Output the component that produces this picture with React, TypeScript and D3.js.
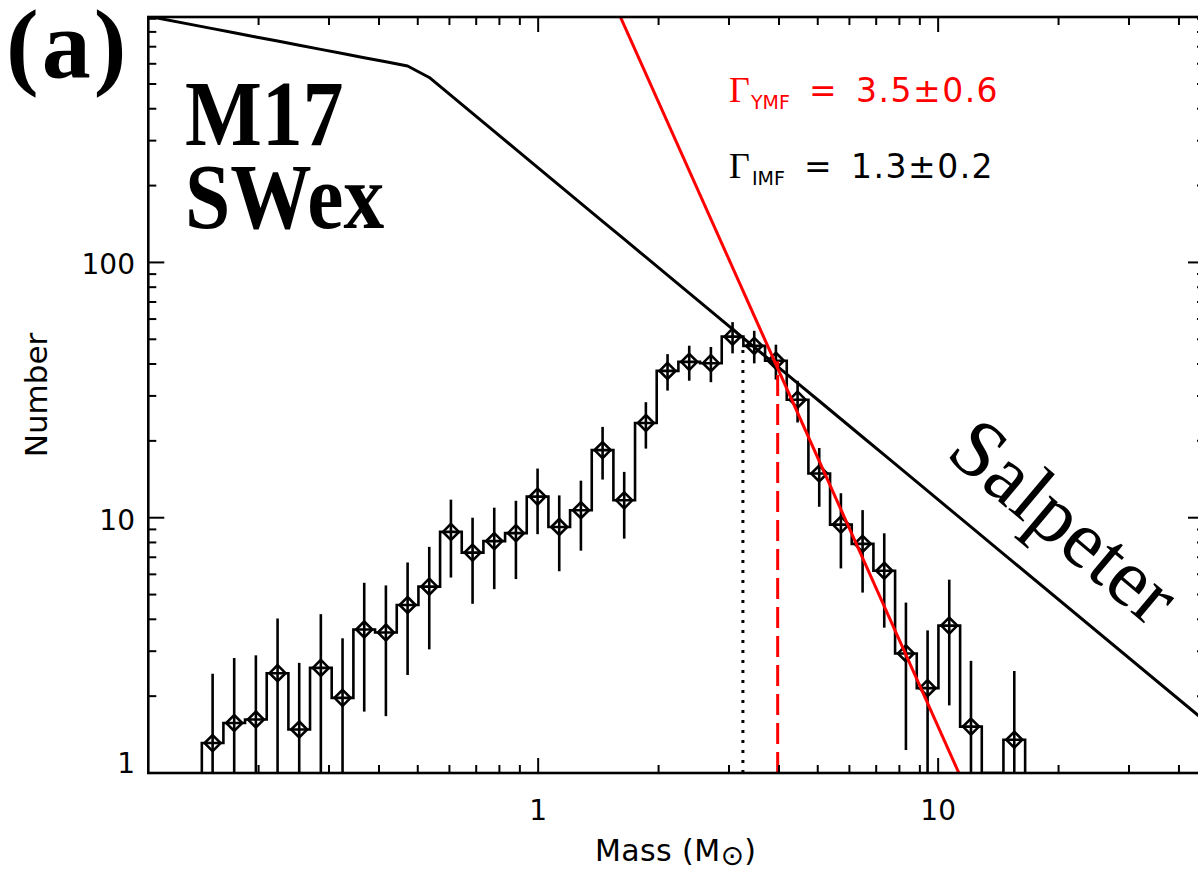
import React from "react";
import * as d3 from "d3";

// Mass function of the M17 SWex population: bin centres (solar masses) and counts
const binMass = [
  0.1535, 0.1738, 0.1969, 0.2231, 0.2527, 0.2862, 0.3243, 0.3674, 0.4162, 0.4716,
  0.5342, 0.6052, 0.6855, 0.7766, 0.8798, 0.9966, 1.129, 1.279, 1.449, 1.641,
  1.859, 2.106, 2.386, 2.703, 3.062, 3.469, 3.93, 4.452, 5.043, 5.713,
  6.473, 7.332, 8.307, 9.41, 10.66, 12.08, 13.68, 15.5,
];
const counts = [
  1.31, 1.57, 1.62, 2.46, 1.48, 2.58, 1.97, 3.65, 3.55, 4.55,
  5.37, 8.8, 7.3, 8.1, 8.7, 12.1, 9.2, 10.7, 18.4, 11.7,
  23.5, 37.6, 40.8, 40.3, 51.2, 47.1, 41.2, 29.0, 14.9, 9.4,
  7.9, 6.2, 2.94, 2.15, 3.78, 1.52, 0, 1.35,
];
const errors = [
  1.14, 1.25, 1.27, 1.57, 1.22, 1.61, 1.4, 1.91, 1.88, 2.13,
  2.32, 2.97, 2.7, 2.85, 2.95, 3.48, 3.03, 3.27, 4.29, 3.42,
  4.85, 6.13, 6.39, 6.35, 7.16, 6.86, 6.42, 5.39, 3.86, 3.07,
  2.81, 2.49, 1.71, 1.47, 1.94, 1.23, 0, 1.16,
];

// Broken power-law IMF (dN/dlogm slopes) and the power-law fit to the high-mass tail
const imfBreakMass = 0.5;
const imfCountAtBreak = 578;
const imfSlopeLow = 0.3;
const imfSlopeHigh = 1.3;
const ymfSlope = 3.5;
const ymfCountAtOneSolar = 4800;

// Reference masses marked with vertical lines: [mass, top count]
const turnover = [3.25, 47];
const fitStart = [3.97, 41];

const xDomain = [0.106, 46.2];
const yDomain = [1, 915];
const xMajorTicks = [1, 10];
const xMinorTicks = [0.2, 0.3, 0.4, 0.5, 0.6, 0.7, 0.8, 0.9, 2, 3, 4, 5, 6, 7, 8, 9, 20, 30, 40];
const yMajorTicks = [1, 10, 100];
const yMinorTicks = [2, 3, 4, 5, 6, 7, 8, 9, 20, 30, 40, 50, 60, 70, 80, 90, 200, 300, 400, 500, 600, 700, 800, 900];

const SANS = "'DejaVu Sans', sans-serif";
const SERIF = "'Liberation Serif', 'Times New Roman', serif";

export default function App() {
  const W = 1198;
  const H = 871;
  const left = 148.3;
  const right = 1204;
  const top = 17;
  const bottom = 773;

  const x = d3.scaleLog().domain(xDomain).range([left, right]);
  const y = d3.scaleLog().domain(yDomain).range([bottom, top]);
  const yv = (v: number) => (v > 0 ? y(Math.max(v, yDomain[0])) : y(yDomain[0]));

  // bin edges: geometric midpoints between neighbouring centres
  const n = binMass.length;
  const edges: number[] = [];
  edges.push(binMass[0] / Math.sqrt(binMass[1] / binMass[0]));
  for (let k = 1; k < n; k++) edges.push(Math.sqrt(binMass[k - 1] * binMass[k]));
  edges.push(binMass[n - 1] * Math.sqrt(binMass[n - 1] / binMass[n - 2]));

  const histPts: [number, number][] = [[x(edges[0]), yv(0)]];
  for (let k = 0; k < n; k++) {
    histPts.push([x(edges[k]), yv(counts[k])]);
    histPts.push([x(edges[k + 1]), yv(counts[k])]);
  }
  histPts.push([x(edges[n]), yv(0)]);
  const line = d3.line();
  const histPath = line(histPts) || "";

  const imf = (m: number) =>
    m < imfBreakMass
      ? imfCountAtBreak * Math.pow(m / imfBreakMass, -imfSlopeLow)
      : imfCountAtBreak * Math.pow(m / imfBreakMass, -imfSlopeHigh);
  const imfMasses = [xDomain[0], ...binMass, xDomain[1]];
  const imfPath = line(imfMasses.map((m) => [x(m), y(imf(m))] as [number, number])) || "";

  const ymf = (m: number) => ymfCountAtOneSolar * Math.pow(m, -ymfSlope);
  const ymfMasses = [xDomain[0], xDomain[1]];
  const ymfPath = line(ymfMasses.map((m) => [x(m), y(ymf(m))] as [number, number])) || "";

  const d = 8; // diamond half-size
  const axisColor = "#000";

  return (
    <svg
      width={W}
      height={H}
      viewBox={`0 0 ${W} ${H}`}
      style={{ position: "absolute", left: 0, top: 0, background: "#fff" }}
    >
      <defs>
        <clipPath id="plotClip">
          <rect x={left} y={top} width={right - left} height={bottom - top} />
        </clipPath>
      </defs>
      <rect x={0} y={0} width={W} height={H} fill="#fff" />

      <g clipPath="url(#plotClip)" fill="none">
        {/* histogram outline */}
        <path d={histPath} stroke="#000" strokeWidth={2.6} strokeLinejoin="miter" />
        {/* error bars */}
        {binMass.map((m, k) =>
          counts[k] > 0 ? (
            <line
              key={`e${k}`}
              x1={x(m)}
              x2={x(m)}
              y1={yv(counts[k] + errors[k])}
              y2={counts[k] - errors[k] > yDomain[0] ? yv(counts[k] - errors[k]) : y(yDomain[0])}
              stroke="#000"
              strokeWidth={2.6}
            />
          ) : null
        )}
        {/* diamond markers */}
        {binMass.map((m, k) =>
          counts[k] > 0 ? (
            <path
              key={`p${k}`}
              transform={`translate(${x(m)},${y(counts[k])})`}
              d={`M0,${-d}L${d},0L0,${d}L${-d},0Z`}
              stroke="#000"
              strokeWidth={2.6}
            />
          ) : null
        )}
        {/* IMF model */}
        <path d={imfPath} stroke="#000" strokeWidth={3} strokeLinejoin="round" />
        {/* high-mass fit */}
        <path d={ymfPath} stroke="#ff0000" strokeWidth={3} />
        {/* turnover and fit-start markers */}
        <line
          x1={x(turnover[0])}
          x2={x(turnover[0])}
          y1={y(yDomain[0])}
          y2={y(turnover[1])}
          stroke="#000"
          strokeWidth={3}
          strokeDasharray="3 7"
        />
        <line
          x1={x(fitStart[0])}
          x2={x(fitStart[0])}
          y1={y(yDomain[0])}
          y2={y(fitStart[1])}
          stroke="#ff0000"
          strokeWidth={3}
          strokeDasharray="21 8"
        />
      </g>

      {/* frame */}
      <rect
        x={left}
        y={top}
        width={right - left}
        height={bottom - top}
        fill="none"
        stroke={axisColor}
        strokeWidth={2.6}
      />

      {/* ticks on all four sides */}
      <g stroke={axisColor} strokeWidth={2}>
        {xMajorTicks.map((t) => (
          <g key={`xm${t}`}>
            <line x1={x(t)} x2={x(t)} y1={bottom} y2={bottom - 15} />
            <line x1={x(t)} x2={x(t)} y1={top} y2={top + 15} />
          </g>
        ))}
        {xMinorTicks.map((t) => (
          <g key={`xn${t}`}>
            <line x1={x(t)} x2={x(t)} y1={bottom} y2={bottom - 8} />
            <line x1={x(t)} x2={x(t)} y1={top} y2={top + 8} />
          </g>
        ))}
        {yMajorTicks.map((t) => (
          <g key={`ym${t}`}>
            <line x1={left} x2={left + 16} y1={y(t)} y2={y(t)} />
            <line x1={right} x2={right - 16} y1={y(t)} y2={y(t)} />
          </g>
        ))}
        {yMinorTicks.map((t) => (
          <g key={`yn${t}`}>
            <line x1={left} x2={left + 8} y1={y(t)} y2={y(t)} />
            <line x1={right} x2={right - 7} y1={y(t)} y2={y(t)} />
          </g>
        ))}
      </g>

      {/* tick labels */}
      <g fontFamily={SANS} fontSize={28} fill="#000">
        {xMajorTicks.map((t) => (
          <text key={`xl${t}`} x={x(t)} y={820} textAnchor="middle">
            {d3.format("d")(t)}
          </text>
        ))}
        {yMajorTicks.map((t) => (
          <text
            key={`yl${t}`}
            x={135}
            y={t === yDomain[0] ? bottom : y(t) + 12}
            textAnchor="end"
          >
            {d3.format("d")(t)}
          </text>
        ))}
      </g>

      {/* axis titles */}
      <text x={595} y={861} fontFamily={SANS} fontSize={30} letterSpacing={0.4} fill="#000">
        Mass (M
        <tspan fontSize={28} dy={4}>⊙</tspan>
        <tspan dy={-4}>)</tspan>
      </text>
      <text
        transform="translate(47,395) rotate(-90)"
        textAnchor="middle"
        fontFamily={SANS}
        fontSize={31}
        fill="#000"
      >
        Number
      </text>

      {/* slope annotations */}
      <g fill="#ff0000">
        <text x={729} y={102} fontFamily={SERIF} fontSize={36}>Γ</text>
        <text x={751} y={109} fontFamily={SANS} fontSize={19}>YMF</text>
        <text x={809} y={102} fontFamily={SANS} fontSize={33}>=</text>
        <text x={856} y={102} fontFamily={SANS} fontSize={33} letterSpacing={1.5}>
          3.5±0.6
        </text>
      </g>
      <g fill="#000">
        <text x={729} y={178} fontFamily={SERIF} fontSize={36}>Γ</text>
        <text x={752} y={185} fontFamily={SANS} fontSize={19}>IMF</text>
        <text x={804} y={178} fontFamily={SANS} fontSize={33}>=</text>
        <text x={851} y={178} fontFamily={SANS} fontSize={33} letterSpacing={1.5}>
          1.3±0.2
        </text>
      </g>

      {/* panel labels */}
      <text x={6} y={77} fontFamily={SERIF} fontWeight="bold" fontSize={98} letterSpacing={3} fill="#000">
        (a)
      </text>
      <text
        transform="translate(185,145) scale(0.97,1.12)"
        fontFamily={SERIF}
        fontWeight="bold"
        fontSize={84}
        fill="#000"
      >
        M17
      </text>
      <text
        transform="translate(185,228) scale(0.97,1.12)"
        fontFamily={SERIF}
        fontWeight="bold"
        fontSize={84}
        fill="#000"
      >
        SWex
      </text>
      <text
        transform="translate(1047,542) rotate(40)"
        textAnchor="middle"
        fontFamily={SERIF}
        fontSize={82}
        fill="#000"
      >
        Salpeter
      </text>
    </svg>
  );
}
